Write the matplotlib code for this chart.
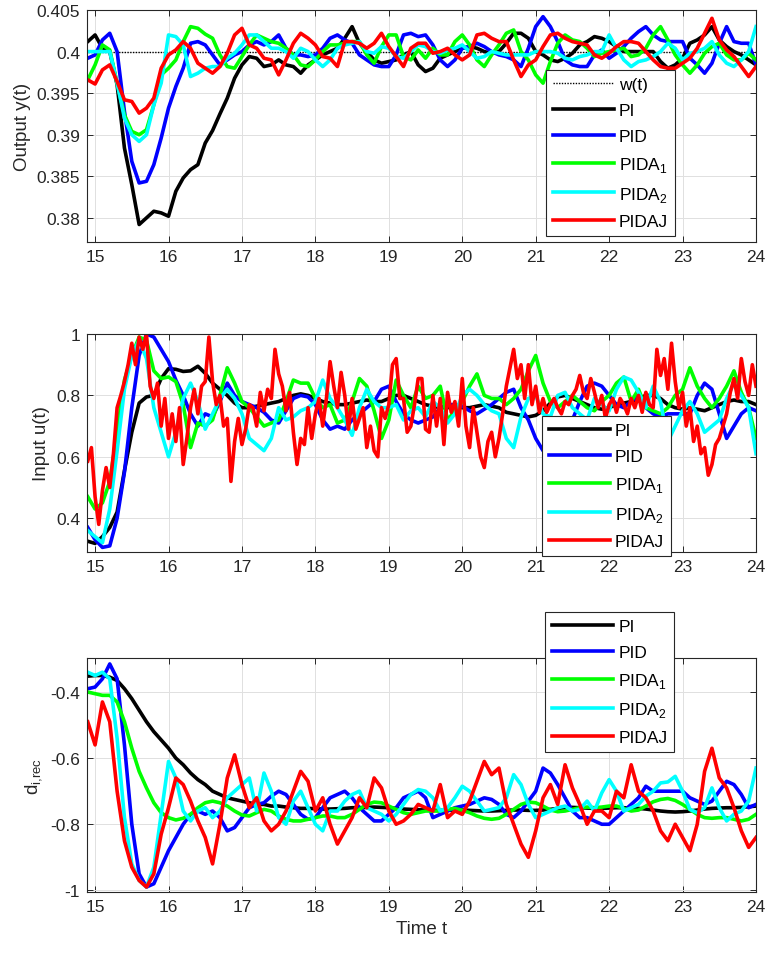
import numpy as np
import matplotlib
matplotlib.use("Agg")
import matplotlib.pyplot as plt

plt.rcParams['font.family'] = ['Liberation Sans', 'DejaVu Sans']
plt.rcParams['mathtext.fontset'] = 'custom'
plt.rcParams['mathtext.rm'] = 'Liberation Sans'

# ---------------- data ----------------
T_START, T_END = 14.9, 24.0
setpoint = [0.4, 0.4]

# Output y(t)
y_PI = [0.4012, 0.4020, 0.4004, 0.4000, 0.3960, 0.3884, 0.3840, 0.3792, 0.3800, 0.3808, 0.3806, 0.3802, 0.3832, 0.3848, 0.3858, 0.3864, 0.3890, 0.3905, 0.3925, 0.3944, 0.3968, 0.3984, 0.3994,
        0.3992, 0.3982, 0.3984, 0.3990, 0.3984, 0.3982, 0.3974, 0.3984, 0.3990, 0.3996, 0.4000, 0.4004, 0.4016, 0.4030, 0.4010, 0.4000, 0.3990, 0.3986, 0.3988, 0.3990, 0.3996, 0.4000, 0.3984, 0.3976,
        0.3980, 0.3992, 0.3996, 0.4000, 0.4004, 0.4006, 0.4004, 0.4000, 0.3998, 0.4000, 0.4010, 0.4022, 0.4022, 0.4016, 0.4000, 0.3996, 0.3990, 0.3988, 0.3992, 0.3998, 0.4008, 0.4012,
        0.4018, 0.4016, 0.4012, 0.4006, 0.4000, 0.4000, 0.4000, 0.4000, 0.4000, 0.3988, 0.3980, 0.3984, 0.3992, 0.4010, 0.4014, 0.4020, 0.4030, 0.4014, 0.4006, 0.4000, 0.3996, 0.3990, 0.3984]
y_PID = [0.3992, 0.3996, 0.4014, 0.4022, 0.4000, 0.3928, 0.3868, 0.3842, 0.3844, 0.3864, 0.3896, 0.3932, 0.3958, 0.3980, 0.4010, 0.4012, 0.4008, 0.3996, 0.3984, 0.3990, 0.3996, 0.4000, 0.4008,
         0.4012, 0.4008, 0.4012, 0.4020, 0.4004, 0.3996, 0.3996, 0.3994, 0.3996, 0.4004, 0.4016, 0.4020, 0.4014, 0.4010, 0.3996, 0.3990, 0.3984, 0.3982, 0.3982, 0.3996, 0.4020, 0.4022, 0.4018, 0.4020,
         0.4008, 0.3990, 0.3982, 0.3990, 0.4004, 0.4006, 0.4010, 0.4006, 0.4000, 0.3996, 0.3994, 0.3990, 0.3982, 0.4004, 0.4030, 0.4042, 0.4030, 0.4012, 0.3990, 0.3984, 0.3982, 0.3982,
         0.3996, 0.4002, 0.3992, 0.3998, 0.4006, 0.4016, 0.4024, 0.4030, 0.4020, 0.4014, 0.4012, 0.4012, 0.4012, 0.3992, 0.3984, 0.3974, 0.3986, 0.4010, 0.4030, 0.4012, 0.4010, 0.4010, 0.3984]
y_PIDA1 = [0.3966, 0.3984, 0.4008, 0.4002, 0.3962, 0.3924, 0.3904, 0.3900, 0.3906, 0.3936, 0.3972, 0.3980, 0.3990, 0.4012, 0.4030, 0.4028, 0.4021, 0.4016, 0.3996, 0.3982, 0.3980, 0.3994, 0.4008,
           0.4020, 0.4016, 0.4012, 0.4010, 0.4004, 0.3996, 0.3984, 0.3982, 0.3990, 0.4000, 0.4008, 0.4008, 0.4010, 0.4012, 0.4012, 0.3996, 0.3986, 0.4006, 0.4020, 0.4020, 0.3994, 0.3990, 0.4002, 0.3992,
           0.4004, 0.3996, 0.3996, 0.4012, 0.4020, 0.4008, 0.3990, 0.3982, 0.3996, 0.4008, 0.4022, 0.4026, 0.4000, 0.3990, 0.3972, 0.3962, 0.3988, 0.4010, 0.4020, 0.4014, 0.4012, 0.4004,
           0.3994, 0.3998, 0.4000, 0.4002, 0.4004, 0.3994, 0.3996, 0.4004, 0.4020, 0.4030, 0.4014, 0.3996, 0.3984, 0.3974, 0.3984, 0.3998, 0.4006, 0.4010, 0.3996, 0.3990, 0.3990, 0.3998, 0.3990]
y_PIDA2 = [0.4000, 0.4000, 0.4000, 0.4000, 0.3962, 0.3920, 0.3900, 0.3892, 0.3900, 0.3936, 0.3962, 0.4020, 0.4018, 0.4008, 0.3970, 0.3974, 0.3980, 0.3982, 0.3982, 0.3992, 0.3998, 0.4008, 0.4020,
           0.4020, 0.4012, 0.4004, 0.4004, 0.4000, 0.3992, 0.4004, 0.4000, 0.3990, 0.3982, 0.3990, 0.4004, 0.4008, 0.4010, 0.4012, 0.4000, 0.3998, 0.4006, 0.4004, 0.3994, 0.3992, 0.4000, 0.4008, 0.4006,
           0.4000, 0.3998, 0.4002, 0.4004, 0.4008, 0.4000, 0.3992, 0.3994, 0.4000, 0.3998, 0.3996, 0.3996, 0.3996, 0.3996, 0.4000, 0.4000, 0.4000, 0.3998, 0.3992, 0.3990, 0.3994, 0.3996,
           0.4000, 0.4000, 0.4020, 0.4004, 0.3990, 0.3982, 0.3988, 0.3990, 0.3994, 0.4000, 0.4010, 0.4004, 0.3990, 0.3998, 0.4000, 0.4004, 0.4012, 0.3996, 0.3986, 0.3982, 0.3990, 0.4000, 0.4030]
y_PIDAJ = [0.3966, 0.3961, 0.3978, 0.3984, 0.3964, 0.3942, 0.3940, 0.3926, 0.3932, 0.3944, 0.3980, 0.3996, 0.4002, 0.4012, 0.4004, 0.3986, 0.3980, 0.3974, 0.3982, 0.3998, 0.4020, 0.4028, 0.4008,
           0.4004, 0.3992, 0.3990, 0.3972, 0.3990, 0.4010, 0.4022, 0.4016, 0.4008, 0.3994, 0.3992, 0.3982, 0.4012, 0.4012, 0.4010, 0.4004, 0.4010, 0.4022, 0.4006, 0.3994, 0.3982, 0.4004, 0.4010, 0.4010,
           0.3998, 0.4000, 0.4004, 0.3996, 0.3990, 0.3996, 0.4020, 0.4022, 0.4016, 0.4012, 0.4012, 0.3990, 0.3970, 0.3984, 0.3990, 0.4006, 0.4020, 0.4022, 0.4016, 0.4012, 0.4010, 0.4008,
           0.3996, 0.3992, 0.3998, 0.4006, 0.4012, 0.4012, 0.4010, 0.4000, 0.3990, 0.3982, 0.3980, 0.3980, 0.3986, 0.3992, 0.4004, 0.4022, 0.4040, 0.4014, 0.4002, 0.3994, 0.3982, 0.3970, 0.3982]

# Input u(t)
u_PI = [0.325, 0.318, 0.340, 0.370, 0.420, 0.555, 0.680, 0.775, 0.795, 0.800, 0.855, 0.887, 0.885, 0.878, 0.880, 0.895, 0.872, 0.840, 0.820, 0.800, 0.775, 0.760, 0.760,
        0.765, 0.770, 0.775, 0.780, 0.790, 0.800, 0.805, 0.800, 0.790, 0.780, 0.775, 0.770, 0.770, 0.775, 0.780, 0.785, 0.780, 0.780, 0.790, 0.800, 0.800, 0.790, 0.780, 0.770,
        0.765, 0.760, 0.760, 0.765, 0.760, 0.760, 0.765, 0.770, 0.765, 0.760, 0.745, 0.740, 0.735, 0.730, 0.735, 0.750, 0.775, 0.795, 0.800, 0.790, 0.780, 0.770,
        0.760, 0.755, 0.760, 0.770, 0.775, 0.780, 0.790, 0.800, 0.800, 0.790, 0.770, 0.760, 0.755, 0.760, 0.755, 0.750, 0.760, 0.770, 0.780, 0.785, 0.780, 0.780, 0.770]
u_PID = [0.37, 0.33, 0.305, 0.31, 0.40, 0.55, 0.76, 0.93, 1.0, 0.99, 0.95, 0.91, 0.85, 0.80, 0.74, 0.70, 0.74, 0.73, 0.78, 0.84, 0.80, 0.78, 0.77,
         0.76, 0.745, 0.72, 0.71, 0.75, 0.79, 0.80, 0.795, 0.77, 0.72, 0.69, 0.70, 0.69, 0.72, 0.74, 0.76, 0.78, 0.82, 0.83, 0.78, 0.74, 0.72, 0.71, 0.72,
         0.73, 0.76, 0.77, 0.77, 0.765, 0.75, 0.74, 0.755, 0.77, 0.79, 0.81, 0.82, 0.76, 0.72, 0.66, 0.62, 0.61, 0.62, 0.66, 0.72, 0.78, 0.83,
         0.84, 0.83, 0.80, 0.77, 0.76, 0.78, 0.80, 0.76, 0.74, 0.73, 0.74, 0.74, 0.74, 0.74, 0.80, 0.84, 0.82, 0.74, 0.66, 0.70, 0.74, 0.76, 0.75]
u_PIDA1 = [0.47, 0.43, 0.45, 0.52, 0.68, 0.85, 0.93, 0.99, 0.98, 0.88, 0.855, 0.86, 0.845, 0.77, 0.63, 0.71, 0.70, 0.72, 0.80, 0.89, 0.84, 0.78, 0.76,
           0.73, 0.70, 0.71, 0.72, 0.78, 0.85, 0.84, 0.84, 0.79, 0.76, 0.77, 0.71, 0.72, 0.78, 0.855, 0.83, 0.75, 0.66, 0.72, 0.85, 0.80, 0.76, 0.83, 0.79,
           0.80, 0.83, 0.72, 0.75, 0.78, 0.83, 0.87, 0.80, 0.79, 0.79, 0.77, 0.79, 0.82, 0.88, 0.93, 0.84, 0.78, 0.76, 0.78, 0.80, 0.78, 0.76,
           0.75, 0.78, 0.80, 0.84, 0.86, 0.78, 0.82, 0.76, 0.75, 0.74, 0.76, 0.80, 0.82, 0.89, 0.83, 0.79, 0.76, 0.79, 0.83, 0.88, 0.81, 0.76, 0.66]
u_PIDA2 = [0.36, 0.34, 0.32, 0.43, 0.62, 0.82, 0.93, 0.98, 0.92, 0.76, 0.68, 0.60, 0.68, 0.79, 0.84, 0.78, 0.69, 0.74, 0.79, 0.82, 0.79, 0.74, 0.66,
           0.64, 0.62, 0.66, 0.76, 0.72, 0.73, 0.75, 0.76, 0.78, 0.85, 0.79, 0.76, 0.72, 0.67, 0.76, 0.82, 0.78, 0.76, 0.76, 0.77, 0.72, 0.75, 0.76, 0.73,
           0.78, 0.76, 0.71, 0.74, 0.80, 0.82, 0.80, 0.77, 0.75, 0.74, 0.66, 0.63, 0.73, 0.79, 0.80, 0.74, 0.73, 0.80, 0.81, 0.76, 0.74, 0.72,
           0.79, 0.77, 0.75, 0.82, 0.86, 0.85, 0.81, 0.76, 0.83, 0.78, 0.65, 0.70, 0.75, 0.78, 0.74, 0.68, 0.70, 0.72, 0.79, 0.84, 0.80, 0.76, 0.61]
u_PIDAJ = [0.586, 0.63, 0.47, 0.38, 0.49, 0.565, 0.50, 0.61, 0.76, 0.80, 0.845, 0.90, 0.97, 0.90, 0.99, 0.95, 1.0, 0.83, 0.79, 0.84, 0.70, 0.79, 0.66, 0.74, 0.65, 0.76, 0.575, 0.66, 0.76, 0.82, 0.74, 0.83, 0.845, 0.99, 0.845, 0.77, 0.80, 0.70, 0.725, 0.52, 0.65, 0.725, 0.64, 0.69, 0.77,
           0.76, 0.70, 0.81, 0.75, 0.82, 0.79, 0.95, 0.87, 0.83, 0.75, 0.81, 0.68, 0.575, 0.66, 0.64, 0.76, 0.66, 0.74, 0.79, 0.70, 0.79, 0.91, 0.83, 0.76, 0.875, 0.80, 0.69, 0.79, 0.69, 0.725, 0.76, 0.63, 0.70, 0.62, 0.60, 0.76, 0.725, 0.77, 0.90, 0.92, 0.79, 0.79, 0.68, 0.70, 0.77, 0.855, 0.855, 0.69,
           0.68, 0.80, 0.70, 0.79, 0.64, 0.81, 0.745, 0.78, 0.70, 0.855, 0.70, 0.63, 0.76, 0.68, 0.60, 0.565, 0.65, 0.68, 0.60, 0.66, 0.74, 0.83, 0.89, 0.95, 0.855, 0.90, 0.79, 0.90, 0.77, 0.83, 0.745, 0.79, 0.745, 0.77, 0.79, 0.76, 0.74, 0.78, 0.77, 0.80, 0.82, 0.865, 0.81, 0.79, 0.855,
           0.81, 0.76, 0.80, 0.725, 0.77, 0.79, 0.745, 0.79, 0.77, 0.74, 0.79, 0.76, 0.80, 0.745, 0.81, 0.77, 0.76, 0.95, 0.865, 0.92, 0.82, 0.97, 0.845, 0.76, 0.81, 0.70, 0.76, 0.65, 0.70, 0.61, 0.63, 0.54, 0.575, 0.64, 0.66, 0.70, 0.74, 0.81, 0.855, 0.79, 0.92, 0.845, 0.80, 0.90, 0.83]

# Disturbance reconstruction d_i,rec
d_PI = [-0.352, -0.350, -0.350, -0.355, -0.365, -0.390, -0.420, -0.455, -0.490, -0.520, -0.545, -0.570, -0.600, -0.620, -0.645, -0.665, -0.680, -0.700, -0.710, -0.720, -0.725, -0.730, -0.735,
        -0.740, -0.740, -0.745, -0.745, -0.748, -0.750, -0.752, -0.752, -0.753, -0.754, -0.754, -0.753, -0.752, -0.750, -0.750, -0.749, -0.748, -0.749, -0.750, -0.752, -0.754, -0.755, -0.756, -0.757,
        -0.758, -0.758, -0.758, -0.757, -0.757, -0.758, -0.759, -0.760, -0.760, -0.759, -0.758, -0.757, -0.757, -0.758, -0.758, -0.757, -0.755, -0.752, -0.750, -0.749, -0.750, -0.751,
        -0.752, -0.752, -0.751, -0.750, -0.750, -0.751, -0.752, -0.754, -0.757, -0.760, -0.762, -0.763, -0.762, -0.760, -0.757, -0.754, -0.752, -0.751, -0.750, -0.750, -0.749, -0.747, -0.745]
d_PID = [-0.39, -0.385, -0.36, -0.315, -0.36, -0.56, -0.80, -0.95, -0.99, -0.98, -0.93, -0.88, -0.84, -0.80, -0.77, -0.76, -0.77, -0.76, -0.78, -0.82, -0.81, -0.78, -0.75,
         -0.74, -0.735, -0.715, -0.70, -0.71, -0.74, -0.77, -0.785, -0.78, -0.75, -0.72, -0.71, -0.70, -0.72, -0.75, -0.77, -0.79, -0.79, -0.77, -0.75, -0.72, -0.71, -0.70, -0.72,
         -0.78, -0.77, -0.76, -0.75, -0.745, -0.74, -0.73, -0.72, -0.725, -0.74, -0.77, -0.78, -0.76, -0.73, -0.70, -0.63, -0.645, -0.68, -0.72, -0.76, -0.78, -0.78,
         -0.79, -0.80, -0.80, -0.78, -0.76, -0.74, -0.72, -0.685, -0.70, -0.70, -0.70, -0.70, -0.70, -0.72, -0.73, -0.74, -0.73, -0.70, -0.67, -0.68, -0.71, -0.75, -0.74]
d_PIDA1 = [-0.40, -0.405, -0.41, -0.41, -0.43, -0.49, -0.57, -0.64, -0.69, -0.735, -0.765, -0.78, -0.787, -0.782, -0.77, -0.75, -0.735, -0.73, -0.735, -0.745, -0.76, -0.772, -0.775,
           -0.765, -0.755, -0.76, -0.775, -0.785, -0.79, -0.79, -0.785, -0.78, -0.775, -0.775, -0.78, -0.78, -0.77, -0.755, -0.74, -0.733, -0.735, -0.745, -0.755, -0.765, -0.77, -0.765, -0.76,
           -0.76, -0.76, -0.755, -0.752, -0.758, -0.765, -0.775, -0.782, -0.785, -0.782, -0.77, -0.755, -0.74, -0.733, -0.735, -0.745, -0.757, -0.762, -0.76, -0.755, -0.75, -0.748,
           -0.75, -0.748, -0.745, -0.745, -0.752, -0.76, -0.757, -0.745, -0.732, -0.725, -0.722, -0.728, -0.74, -0.755, -0.77, -0.78, -0.782, -0.78, -0.78, -0.785, -0.79, -0.785, -0.77]
d_PIDA2 = [-0.34, -0.35, -0.34, -0.36, -0.54, -0.78, -0.92, -0.97, -0.99, -0.93, -0.77, -0.61, -0.66, -0.76, -0.79, -0.76, -0.75, -0.78, -0.76, -0.72, -0.70, -0.68, -0.66,
           -0.76, -0.645, -0.70, -0.78, -0.80, -0.73, -0.70, -0.75, -0.80, -0.82, -0.76, -0.76, -0.73, -0.71, -0.70, -0.75, -0.76, -0.77, -0.79, -0.77, -0.74, -0.71, -0.695, -0.70,
           -0.72, -0.76, -0.75, -0.72, -0.685, -0.70, -0.73, -0.76, -0.755, -0.75, -0.72, -0.65, -0.68, -0.74, -0.78, -0.77, -0.76, -0.75, -0.745, -0.76, -0.755, -0.73,
           -0.76, -0.705, -0.665, -0.70, -0.76, -0.75, -0.74, -0.715, -0.70, -0.675, -0.672, -0.655, -0.70, -0.755, -0.765, -0.75, -0.69, -0.75, -0.79, -0.77, -0.76, -0.73, -0.63]
d_PIDAJ = [-0.49, -0.56, -0.43, -0.49, -0.70, -0.85, -0.93, -0.97, -0.99, -0.95, -0.83, -0.75, -0.66, -0.68, -0.73, -0.79, -0.84, -0.92, -0.80, -0.66, -0.59, -0.68, -0.75,
           -0.72, -0.79, -0.82, -0.80, -0.76, -0.70, -0.64, -0.67, -0.76, -0.72, -0.80, -0.86, -0.82, -0.78, -0.72, -0.75, -0.66, -0.69, -0.76, -0.80, -0.79, -0.77, -0.74, -0.75,
           -0.76, -0.68, -0.78, -0.76, -0.77, -0.73, -0.67, -0.61, -0.65, -0.63, -0.74, -0.80, -0.86, -0.90, -0.82, -0.72, -0.68, -0.74, -0.62, -0.69, -0.74, -0.80,
           -0.76, -0.76, -0.78, -0.70, -0.72, -0.62, -0.70, -0.72, -0.76, -0.82, -0.85, -0.80, -0.84, -0.88, -0.80, -0.64, -0.57, -0.66, -0.69, -0.75, -0.82, -0.87, -0.84]

names = ['PI', 'PID', 'PIDA$_\\mathregular{1}$', 'PIDA$_\\mathregular{2}$', 'PIDAJ']
colors = ['#000000', '#0000ff', '#00ff00', '#00ffff', '#ff0000']
xticks = [15, 16, 17, 18, 19, 20, 21, 22, 23, 24]
yticks_top = [0.38, 0.385, 0.39, 0.395, 0.4, 0.405]
ylabels_top = ['0.38', '0.385', '0.39', '0.395', '0.4', '0.405']
yticks_mid = [0.4, 0.6, 0.8, 1.0]
ylabels_mid = ['0.4', '0.6', '0.8', '1']
yticks_bot = [-1.0, -0.8, -0.6, -0.4]
ylabels_bot = ['-1', '-0.8', '-0.6', '-0.4']

# ---------------- figure ----------------
W, H = 773, 954
fig = plt.figure(figsize=(W / 100, H / 100), dpi=100)

def px_axes(x0, y0, x1, y1):
    return fig.add_axes([x0 / W, 1 - y1 / H, (x1 - x0) / W, (y1 - y0) / H])

ax1 = px_axes(87, 11, 756, 243)
ax2 = px_axes(87, 335, 756, 553)
ax3 = px_axes(87, 659, 756, 893)

def tvec(v):
    return np.linspace(T_START, T_END, len(v))

def style(ax, yt, yl, ylim):
    ax.set_xlim(14.89, 24.0)
    ax.set_ylim(*ylim)
    ax.set_xticks(xticks)
    ax.set_xticklabels([str(x) for x in xticks])
    ax.set_yticks(yt)
    ax.set_yticklabels(yl)
    ax.grid(True, color='#e0e0e0', linewidth=0.7)
    ax.set_axisbelow(True)
    ax.tick_params(direction='in', top=True, right=True, length=4, width=0.7,
                   colors='#262626', labelsize=12.5, pad=5)
    for s in ax.spines.values():
        s.set_color('#262626')
        s.set_linewidth(0.8)

LW = 2.6
legkw = dict(frameon=True, fancybox=False, framealpha=1, edgecolor='#262626',
             fontsize=12.5, handlelength=3.5, handletextpad=0.3, borderpad=0.4,
             labelspacing=0.62, borderaxespad=0, loc='upper left')

# top
ax1.plot([T_START, T_END], setpoint, linestyle=(0, (1, 1)), color='k', linewidth=1.0, label='w(t)')
for v, c, n in zip([y_PI, y_PID, y_PIDA1, y_PIDA2, y_PIDAJ], colors, names):
    ax1.plot(tvec(v), v, color=c, linewidth=LW, label=n)
style(ax1, yticks_top, ylabels_top, (0.3771, 0.405))
ax1.set_ylabel('Output y(t)', fontsize=13.5, color='#262626')
lg = ax1.legend(bbox_to_anchor=(0.686, 0.741), **legkw)
lg.get_frame().set_linewidth(0.8)

# middle
for v, c, n in zip([u_PI, u_PID, u_PIDA1, u_PIDA2, u_PIDAJ], colors, names):
    ax2.plot(tvec(v), v, color=c, linewidth=LW, label=n)
style(ax2, yticks_mid, ylabels_mid, (0.29, 1.0))
ax2.set_ylabel('Input u(t)', fontsize=13.5, color='#262626')
lg = ax2.legend(bbox_to_anchor=(0.680, 0.624), **legkw)
lg.get_frame().set_linewidth(0.8)

# bottom
for v, c, n in zip([d_PI, d_PID, d_PIDA1, d_PIDA2, d_PIDAJ], colors, names):
    ax3.plot(tvec(v), v, color=c, linewidth=LW, label=n)
style(ax3, yticks_bot, ylabels_bot, (-1.005, -0.297))
ax3.set_ylabel('d$_\\mathregular{i{,}rec}$', fontsize=13.5, color='#262626')
ax3.set_xlabel('Time t', fontsize=13.5, color='#262626')
lg = ax3.legend(bbox_to_anchor=(0.685, 1.197), **legkw)
lg.get_frame().set_linewidth(0.8)

fig.savefig('out.png', dpi=100)
